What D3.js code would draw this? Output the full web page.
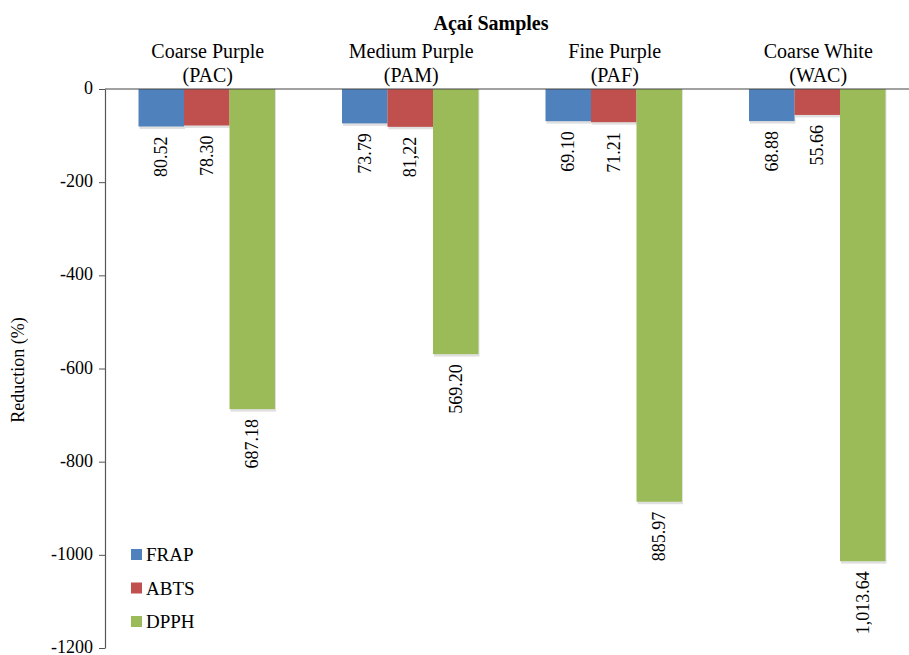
<!DOCTYPE html>
<html><head><meta charset="utf-8">
<script src="https://cdn.jsdelivr.net/npm/d3@7"></script>
</head><body style="margin:0">
<svg id="c" width="909" height="655"></svg>
<script>
const categories = ["Coarse Purple|(PAC)", "Medium Purple|(PAM)", "Fine Purple|(PAF)", "Coarse White|(WAC)"];
const seriesNames = ["FRAP", "ABTS", "DPPH"];
const frap = [80.52, 73.79, 69.10, 68.88];
const abts = [78.30, 81.22, 71.21, 55.66];
const dpph = [687.18, 569.20, 885.97, 1013.64];
const frapLabels = ["80.52", "73.79", "69.10", "68.88"];
const abtsLabels = ["78.30", "81,22", "71.21", "55.66"];
const dpphLabels = ["687.18", "569.20", "885.97", "1,013.64"];
const yTicks = [0, -200, -400, -600, -800, -1000, -1200];
const colors = ["#4F81BD", "#C0504D", "#9BBB59"];

const values = [frap, abts, dpph];
const labels = [frapLabels, abtsLabels, dpphLabels];
const FONT = "Liberation Serif, Tinos, Times New Roman, serif";

const svg = d3.select("#c").attr("font-family", FONT);
const pLeft = 105, pRight = 919, pTop = 89, pBottom = 648;

const x0 = d3.scaleBand().domain(d3.range(categories.length)).range([pLeft, pRight]).paddingInner(0).paddingOuter(0);
const x1 = d3.scaleBand().domain(d3.range(seriesNames.length)).range([0, 136.5]);
const groupOffset = (x0.bandwidth() - 136.5) / 2;
const y = d3.scaleLinear().domain([0, -1200]).range([pTop, pBottom]);

function tg(){ return svg.append("g").attr("font-family", FONT); }
function txt(sel, size){ return sel.attr("font-family", FONT).attr("font-size", size).attr("fill", "#000"); }

// soft shadows
values.forEach((vals, s) => {
  svg.append("g").selectAll("rect").data(vals).join("rect")
    .attr("x", (d,i) => x0(i) + groupOffset + x1(s) + 1)
    .attr("width", x1.bandwidth())
    .attr("y", y(0))
    .attr("height", d => y(-d) - y(0) + 2.5)
    .attr("fill", "#000").attr("opacity", 0.12);
});
// bars
values.forEach((vals, s) => {
  svg.append("g").selectAll("rect").data(vals).join("rect")
    .attr("x", (d,i) => x0(i) + groupOffset + x1(s))
    .attr("width", x1.bandwidth())
    .attr("y", y(0))
    .attr("height", d => y(-d) - y(0))
    .attr("fill", colors[s]);
});

// labels
values.forEach((vals, s) => {
  txt(tg().selectAll("text").data(vals).join("text"), 18)
    .attr("transform", (d,i) => `translate(${x0(i) + groupOffset + x1(s) + x1.bandwidth()/2 + 6},${y(-d) + 10}) rotate(-90)`)
    .attr("text-anchor", "end")
    .text((d,i) => labels[s][i]);
});

// y axis
const yAxis = d3.axisLeft(y).tickValues(yTicks).tickSize(6).tickSizeOuter(0).tickFormat(d => String(d));
const ga = svg.append("g").attr("transform", `translate(${pLeft},0)`).call(yAxis);
ga.attr("font-family", FONT).attr("font-size", 18);
ga.select(".domain").attr("stroke", "#555").attr("stroke-width", 1.2);
ga.selectAll(".tick line").attr("stroke", "#555");
txt(ga.selectAll(".tick text"), 18).attr("x", -12).attr("dy", "0.25em");

// zero line
svg.append("line").attr("x1", pLeft).attr("x2", 909).attr("y1", y(0)).attr("y2", y(0)).attr("stroke", "#444").attr("stroke-width", 1.2);

// category labels
const cg = tg();
categories.forEach((c, i) => {
  const parts = c.split("|");
  const cx = x0(i) + x0.bandwidth()/2 + 1;
  txt(cg.append("text"), 20).attr("x", cx).attr("y", 58).attr("text-anchor","middle").text(parts[0]);
  txt(cg.append("text"), 20).attr("x", cx).attr("y", 82).attr("text-anchor","middle").text(parts[1]);
});

// title
txt(tg().append("text"), 20).attr("x", 491).attr("y", 30).attr("text-anchor","middle").attr("font-weight","bold").text("Açaí Samples");

// y axis title
txt(tg().append("text"), 18).attr("transform","translate(24,370) rotate(-90)").attr("text-anchor","middle").text("Reduction (%)");

// legend
const lg = tg();
seriesNames.forEach((n, i) => {
  const ly = 554 + i * 33.5;
  lg.append("rect").attr("x", 131).attr("y", ly - 5).attr("width", 11).attr("height", 11).attr("fill", colors[i]);
  txt(lg.append("text"), 19).attr("x", 146).attr("y", ly + 7).text(n);
});
</script>
</body></html>
